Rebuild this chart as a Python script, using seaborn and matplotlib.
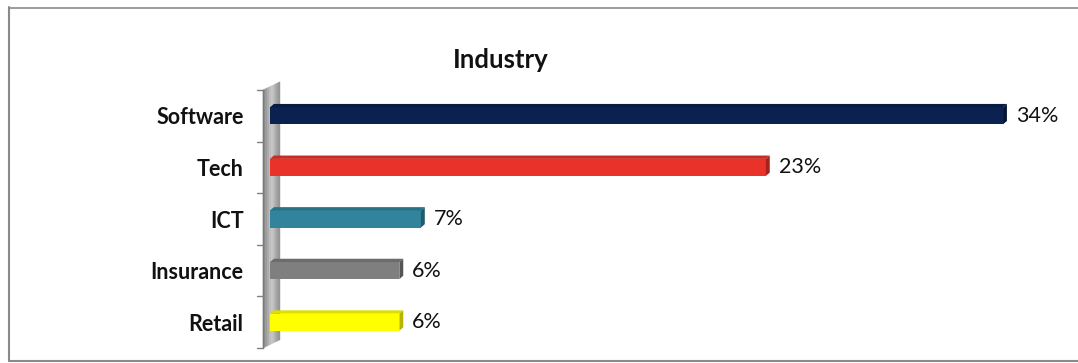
import matplotlib
matplotlib.use("Agg")
import matplotlib.pyplot as plt
import matplotlib.patches as mpatches
from matplotlib.colors import to_rgb
from matplotlib.lines import Line2D
import numpy as np
import pandas as pd
import seaborn as sns

# Share of companies by industry (%)
industries = ["Software", "Tech", "ICT", "Insurance", "Retail"]
shares = [34, 23, 7, 6, 6]
bar_colors = ["#0b2150", "#e8322a", "#31849b", "#7f7f7f", "#ffff00"]
side_colors = ["#061433", "#a8221c", "#1f5b6b", "#555555", "#b5b500"]
title = "Industry"

sns.set_theme(style="white")
plt.rcParams["font.family"] = ["Lato", "DejaVu Sans"]

W, H = 1078, 363
fig = plt.figure(figsize=(W / 100, H / 100), dpi=100)
fig.patch.set_facecolor("white")

# axes: x=0 at 270px, 21.56 px per percentage point
px_per = 21.56
ax_left, ax_w = 270, 36 * px_per
ax_top, ax_bot = 90, 348
ax = fig.add_axes([ax_left / W, (H - ax_bot) / H, ax_w / W, (ax_bot - ax_top) / H])

df = pd.DataFrame({"industry": industries, "share": shares})
sns.barplot(data=df, x="share", y="industry", hue="industry", palette=bar_colors,
            order=industries, hue_order=industries, legend=False,
            width=0.33, orient="h", ax=ax, saturation=1, edgecolor="none")

n = len(industries)
ax.set_xlim(0, 36)
ax.set_ylim(n - 0.5, -0.5)
ax.set_xlabel("")
ax.set_ylabel("")
ax.set_xticks([])
for s in ax.spines.values():
    s.set_visible(False)
ax.tick_params(axis="y", length=0, pad=19)
for lbl in ax.get_yticklabels():
    lbl.set_fontweight("bold")
    lbl.set_fontsize(15.5)
    lbl.set_color("#111111")

# slight depth on each bar: top face and right side face
dx, dy = 0.18, 0.065
for patch, fc, sc in zip(ax.patches, bar_colors, side_colors):
    patch.set_zorder(3)
    x0 = patch.get_x()
    x1 = x0 + patch.get_width()
    y0 = patch.get_y()
    y1 = y0 + patch.get_height()
    tc = tuple(0.55 * np.array(to_rgb(fc)) + 0.45 * np.array(to_rgb(sc)))
    top = mpatches.Polygon([(x0, y0), (x0 + dx, y0 - dy), (x1 + dx, y0 - dy), (x1, y0)],
                           closed=True, facecolor=tc, edgecolor="none", zorder=3)
    side = mpatches.Polygon([(x1, y0), (x1 + dx, y0 - dy), (x1 + dx, y1 - dy), (x1, y1)],
                            closed=True, facecolor=sc, edgecolor="none", zorder=3)
    ax.add_patch(top)
    ax.add_patch(side)
    ax.text(x1 + 0.6, (y0 + y1) / 2, f"{patch.get_width():.0f}%", va="center", ha="left",
            fontsize=15.5, color="#111111")

# gray wall along the category axis: vertical shaded strips, slanted top
wall_x0, wall_x1 = (263 - ax_left) / px_per, (280 - ax_left) / px_per
shades = ["#8c8c8c", "#9a9a9a", "#aaaaaa", "#bdbdbd", "#c4c4c4", "#b5b5b5", "#a3a3a3", "#969696"]
edges = np.linspace(wall_x0, wall_x1, len(shades) + 1)
slope = -0.16 / (wall_x1 - wall_x0)
for xa, xb, c in zip(edges[:-1], edges[1:], shades):
    ya, yb = -0.5 + slope * (xa - wall_x0), -0.5 + slope * (xb - wall_x0)
    ax.add_patch(mpatches.Polygon([(xa, n - 0.5 + slope * (xa - wall_x0)), (xa, ya),
                                   (xb, yb), (xb, n - 0.5 + slope * (xb - wall_x0))],
                                  closed=True, facecolor=c, edgecolor=c, lw=0.3,
                                  zorder=1.1, clip_on=False))
ax.add_line(Line2D([wall_x0, wall_x0], [n - 0.5, -0.5], color="#7a7a7a", lw=1,
                   clip_on=False, zorder=1.2))
for b in np.arange(-0.5, n, 1.0):
    ax.add_line(Line2D([(257 - ax_left) / px_per, wall_x0], [b, b],
                       color="#7f7f7f", lw=1, clip_on=False, zorder=2))

fig.text(501 / W, 1 - 60 / H, title, ha="center", va="center",
         fontsize=18.5, fontweight="bold", color="#111111")

# chart frame
frame_col = "#8a8a8a"
fig.add_artist(Line2D([8.5 / W, 8.5 / W], [1 - 7 / H, 1 - 361 / H],
                      transform=fig.transFigure, color=frame_col, lw=1.5))
fig.add_artist(Line2D([8.5 / W, 1.0], [1 - 7.5 / H, 1 - 7.5 / H],
                      transform=fig.transFigure, color=frame_col, lw=1.2))
fig.add_artist(Line2D([8.5 / W, 1.0], [1 - 361 / H, 1 - 361 / H],
                      transform=fig.transFigure, color=frame_col, lw=1.5))

fig.savefig("out.png", dpi=100, facecolor="white")
